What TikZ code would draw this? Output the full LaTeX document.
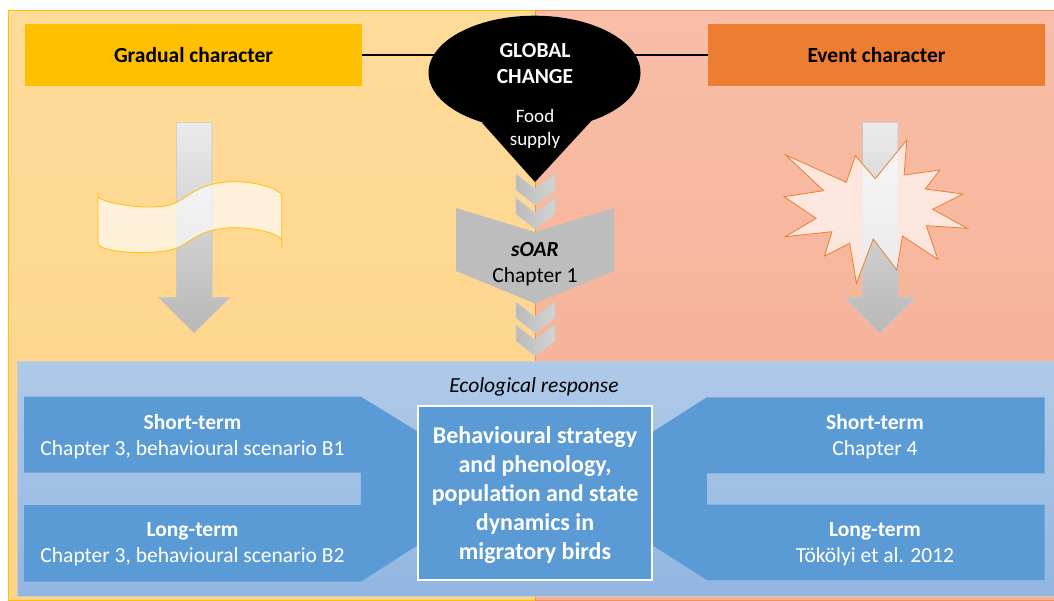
\documentclass[tikz,border=0pt]{standalone}
\usepackage{fontspec}
\setmainfont{Carlito}
\usetikzlibrary{shapes.geometric}
\definecolor{goldbox}{HTML}{FFC000}
\definecolor{orangebox}{HTML}{ED7D31}
\definecolor{bluebox}{HTML}{5B9BD5}
\definecolor{greybox}{HTML}{BDBDBD}
\definecolor{goldtop}{HTML}{FFDB9A}
\definecolor{goldbottom}{HTML}{FED386}
\definecolor{orangetop}{HTML}{F8BEA7}
\definecolor{orangebottom}{HTML}{F4AD90}
\definecolor{bluetop}{HTML}{B0CAE8}
\definecolor{bluebottom}{HTML}{92B6E2}

\begin{document}
\begin{tikzpicture}[x=1pt,y=-1pt]
\tikzset{header/.style = {shape=rectangle,minimum width=337pt,minimum height=62pt,font=\fontsize{21.5}{26}\selectfont\bfseries}}
\tikzset{caption/.style = {align=center,text=white,font=\fontsize{21.5}{26}\selectfont}}
\tikzset{downarrow/.style = {draw=black!22,top color=black!8,bottom color=black!28,line width=0.6pt}}
\tikzset{chevron/.style = {draw=black!20,left color=black!27,right color=black!17,line width=0.6pt}}
\useasboundingbox (0,0) rectangle (1054,600);
% panels
\draw[goldbox,line width=0.7pt,top color=goldtop,bottom color=goldbottom] (8.5,10) rectangle (535,600);
\draw[orangebox!85,line width=0.7pt,top color=orangetop,bottom color=orangebottom] (535,10) rectangle (1054,600);
\draw[black!20,line width=0.7pt,top color=bluetop,bottom color=bluebottom] (17,361) rectangle (1054,596);
% headers
\node[header,fill=goldbox] (gradual) at (193.5,55) {Gradual character};
\node[header,fill=orangebox] (event) at (876.5,55) {Event character};
% global change
\node[shape=ellipse,fill=black,minimum width=212pt,minimum height=114pt,inner sep=0pt] (change) at (534.5,72.7) {};
\fill[black] (482,122.7) -- (535,182) -- (591.5,120.7) -- cycle;
\draw[line width=2.2pt] (gradual.east) -- (gradual.east -| change.center);
\draw[line width=2.2pt] (event.west) -- (event.west -| change.center);
\node[align=center,text=white,font=\fontsize{21.5}{26}\selectfont\bfseries] (changetext) at (535,63.5) {GLOBAL\\CHANGE};
\node[align=center,text=white,font=\fontsize{19}{23}\selectfont] (food) at (535,129) {Food\\supply};
% chevrons
\foreach \y in {174,198,302,325}
  \draw[chevron] (516,\y) -- (535,\y+15) -- (555,\y) -- (555,\y+16) -- (535,\y+31) -- (516,\y+16) -- cycle;
\fill[greybox] (456,208) -- (535,232) -- (614,208) -- (614,271) -- (535,303.5) -- (456,271) -- cycle;
\node[align=center,font=\fontsize{21.5}{26}\selectfont] (soar) at (535,264.5) {\textbf{\textit{sOAR}}\\Chapter 1};
% arrows
\draw[downarrow] (176.3,122.3) -- (212,122.3) -- (212,297.3) -- (230,297.3) -- (194,332.8) -- (158.3,297.3) -- (176.3,297.3) -- cycle;
\draw[downarrow] (862.5,122.3) -- (898,122.3) -- (898,297.3) -- (915.6,297.3) -- (880,332.8) -- (844.6,297.3) -- (862.5,297.3) -- cycle;
% wave
\draw[goldbox,line width=0.8pt,fill=white,fill opacity=0.65] (98,191.7) -- (98,197.3)
  .. controls (108,205) and (160,212) .. (176.5,202.3)
  .. controls (190,196) and (200,181.7) .. (235,181.7)
  .. controls (255,181.7) and (278,188) .. (281.7,195) -- (281.7,247.3) -- (281.7,240)
  .. controls (278,233) and (255,227.7) .. (235,227.7)
  .. controls (200,227.7) and (190,243) .. (176.5,248.3)
  .. controls (160,255) and (100,254) .. (98,243.3) -- cycle;
% burst
\draw[orangebox,line width=0.8pt,fill=white,fill opacity=0.65] (785.8,155) -- (846.3,182.3) -- (855.4,155.7) -- (875.2,178.7) -- (906.8,140) -- (904.1,175) -- (939.8,170) -- (925.3,189) -- (963,194) -- (932.7,209.3) -- (967.3,228.3) -- (926.3,225.7) -- (937.8,259.3) -- (902.5,236) -- (896.8,270) -- (873.2,239) -- (856.4,283.3) -- (849.7,243.3) -- (824.5,256) -- (831.9,231.7) -- (785.2,236.7) -- (816.1,218.3) -- (784.1,196.7) -- (823.5,190.7) -- cycle;
% response
\node[font=\fontsize{21.5}{26}\selectfont\itshape] (response) at (534,386.5) {Ecological response};
\fill[bluebox] (24,396.7) -- (360.8,396.7) -- (418,431.7) -- (418,545) -- (360.8,581.7) -- (24,581.7) -- (24,505) -- (360.8,505) -- (360.8,472.7) -- (24,472.7) -- cycle;
\fill[bluebox] (653,431.7) -- (706.8,397.3) -- (1044.6,397.3) -- (1044.6,473.3) -- (706.8,473.3) -- (706.8,504.7) -- (1044.6,504.7) -- (1044.6,580) -- (706.8,580) -- (653,545.7) -- cycle;
\node[shape=rectangle,draw=white,line width=1.6pt,fill=bluebox,minimum width=234pt,minimum height=174pt] (strategy) at (535.2,493.2) {};
\node[align=center,text=white,font=\fontsize{24}{29}\selectfont\bfseries] (strategytext) at (535,495) {Behavioural strategy\\and phenology,\\population and state\\dynamics in\\migratory birds};
\node[caption] (shortleft) at (192.5,436.5) {\textbf{Short-term}\\Chapter 3, behavioural scenario B1};
\node[caption] (longleft) at (192.5,544.5) {\textbf{Long-term}\\Chapter 3, behavioural scenario B2};
\node[caption] (shortright) at (875,436.5) {\textbf{Short-term}\\Chapter 4};
\node[caption] (longright) at (875,544.5) {\textbf{Long-term}\\Tökölyi et al. 2012};
\end{tikzpicture}
\end{document}
